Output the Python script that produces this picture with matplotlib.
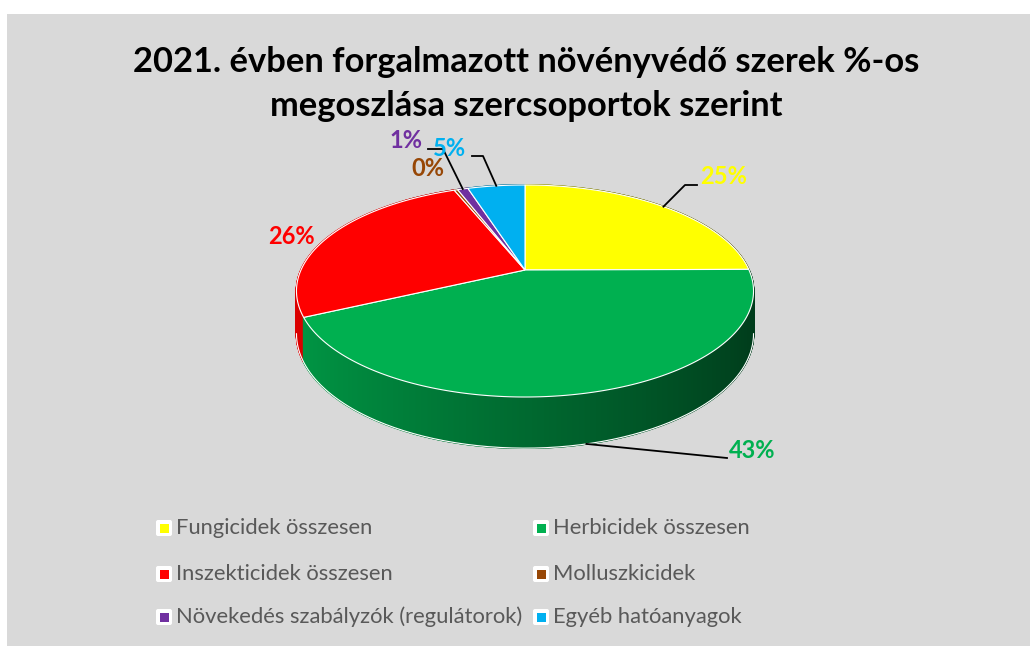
import numpy as np
import matplotlib
matplotlib.use("Agg")
import matplotlib.pyplot as plt
from matplotlib.patches import Polygon, Rectangle, FancyBboxPatch
from matplotlib.colors import to_rgb

# data
categories = ["Fungicidek összesen", "Herbicidek összesen", "Inszekticidek összesen",
              "Molluszkicidek", "Növekedés szabályzók (regulátorok)", "Egyéb hatóanyagok"]
shares = [24.9, 43.1, 25.9, 0.3, 0.9, 4.9]
pct_labels = ["25%", "43%", "26%", "0%", "1%", "5%"]
colors = ["#FFFF00", "#00B050", "#FF0000", "#974706", "#7030A0", "#00B0F0"]

title = "2021. évben forgalmazott növényvédő szerek %-os\nmegoszlása szercsoportok szerint"

# pie geometry (pixel space, perspective tilt)
CX, CY = 525, 270
R = 224
B = -48.4
C = 0.198
DEPTH = 41


def proj(theta, drop=0.0):
    u, v = np.cos(theta), np.sin(theta)
    s = 1.0 / (1.0 + C * v)
    return CX + R * u * s, (CY + B * v + drop) * s


def shade(col, f):
    r, g, b = to_rgb(col)
    return (r * f, g * f, b * f)


fig = plt.figure(figsize=(10.3, 6.46), dpi=100)
fig.patch.set_facecolor("white")
ax = fig.add_axes([0, 0, 1, 1])
ax.set_xlim(0, 1030)
ax.set_ylim(646, 0)
ax.axis("off")
ax.add_patch(Rectangle((7, 14), 1030, 640, facecolor="#D9D9D9", edgecolor="none", zorder=0))

# slice angles, clockwise from 12 o'clock
total = sum(shares)
bounds = np.concatenate([[0], np.cumsum(shares)]) / total * 2 * np.pi
starts = np.pi / 2 - bounds[:-1]
ends = np.pi / 2 - bounds[1:]

# side walls
quads = []
for i, col in enumerate(colors):
    n = max(int(abs(ends[i] - starts[i]) / 0.006), 2)
    th = np.linspace(starts[i], ends[i], n)
    for a, b in zip(th[:-1], th[1:]):
        m = (a + b) / 2
        f = np.clip(0.6 - 0.27 * np.cos(m), 0.3, 1.0)
        pts = [proj(a), proj(b), proj(b, DEPTH), proj(a, DEPTH)]
        quads.append((np.sin(m), pts, shade(col, f)))
quads.sort(key=lambda q: -q[0])
for _, pts, c in quads:
    ax.add_patch(Polygon(pts, closed=True, facecolor=c, edgecolor=c, linewidth=1.2, zorder=2))

# bottom rim highlight (front part)
th = np.linspace(np.pi + 0.2, 2 * np.pi - 0.2, 200)
bx, by = proj(th, DEPTH)
ax.plot(bx, by, color="white", lw=0.8, zorder=3)

# top faces
for i, col in enumerate(colors):
    n = max(int(abs(ends[i] - starts[i]) / 0.01), 2)
    th = np.linspace(starts[i], ends[i], n)
    x, y = proj(th)
    pts = [(CX, CY)] + list(zip(x, y))
    ax.add_patch(Polygon(pts, closed=True, facecolor=col, edgecolor="white", linewidth=0.8, zorder=4))

# percentage labels with leader lines
mids = (starts + ends) / 2
label_pos = [(724, 177), (752, 451), (291, 236), (428, 168), (406, 141), (450, 149)]
leaders = {
    0: [(685, 185), (697, 185)],
    1: [(727, 458)],
    4: [(443, 149), (428, 149)],
    5: [(483, 156), (472, 156)],
}
for i, (lx, ly) in enumerate(label_pos):
    ax.text(lx, ly, pct_labels[i], color=colors[i],
            fontsize=17, fontweight="bold", family="Lato", ha="center", va="center", zorder=6)
    if i in leaders:
        drop = DEPTH if np.sin(mids[i]) < 0 else 0
        sx, sy = proj(mids[i], drop)
        path = [(sx, sy)] + leaders[i]
        ax.plot([p[0] for p in path], [p[1] for p in path], color="black", lw=1.3, zorder=5)

# title
ax.text(526, 84, title, ha="center", va="center", fontsize=24.8, fontweight="bold",
        family="Lato", color="black", linespacing=1.5)

# legend (row-wise, two columns)
col_x = [164, 541]
row_y = [528, 574, 617]
for i, name in enumerate(categories):
    x0, y0 = col_x[i % 2], row_y[i // 2]
    ax.add_patch(FancyBboxPatch((x0 - 8, y0 - 8), 16, 16, boxstyle="round,pad=0,rounding_size=2",
                                facecolor="white", edgecolor="none", zorder=5))
    ax.add_patch(Rectangle((x0 - 4.5, y0 - 4.5), 9, 9, facecolor=colors[i], edgecolor="none", zorder=6))
    ax.text(x0 + 12, y0, name, ha="left", va="center", fontsize=15.8, family="Lato",
            color="#595959", zorder=6)

fig.savefig("out.png", dpi=100, facecolor=fig.get_facecolor())
